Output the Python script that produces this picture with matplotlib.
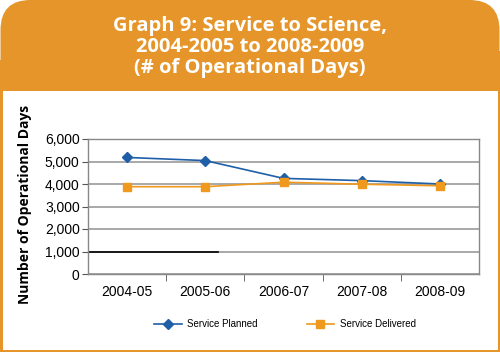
import matplotlib.pyplot as plt
from matplotlib.patches import FancyBboxPatch, Rectangle
from matplotlib.lines import Line2D

years = ['2004-05', '2005-06', '2006-07', '2007-08', '2008-09']
planned = [5180, 5040, 4250, 4150, 4000]
delivered = [3880, 3880, 4080, 3990, 3920]
yticks = [0, 1000, 2000, 3000, 4000, 5000, 6000]

orange = '#E5952A'
blue = '#1F5FA8'
line_orange = '#EF9A1E'

W, H = 500, 352
fig = plt.figure(figsize=(5.0, 3.52), dpi=100)
fig.patch.set_facecolor('white')

# background in pixel units: header box and orange frame
bg = fig.add_axes([0, 0, 1, 1], zorder=-1)
bg.set_xlim(0, W)
bg.set_ylim(0, H)
bg.axis('off')
bg.add_patch(FancyBboxPatch((0.5, H - 91), 499, 91,
                            boxstyle='round,pad=0,rounding_size=30',
                            facecolor=orange, edgecolor='none'))
bg.add_patch(Rectangle((0.5, H - 91), 499, 40, facecolor=orange, edgecolor='none'))
bg.add_patch(Rectangle((0.3, 0), 2.2, H - 60, facecolor=orange, edgecolor='none'))
bg.add_patch(Rectangle((497.5, 0), 2.2, H - 60, facecolor=orange, edgecolor='none'))
bg.add_patch(Rectangle((0, 0), W, 1.8, facecolor=orange, edgecolor='none'))

fig.text(0.5, 1 - 47 / H,
         'Graph 9: Service to Science,\n2004-2005 to 2008-2009\n(# of Operational Days)',
         ha='center', va='center', color='white', fontsize=14.5, fontweight='bold',
         family='Open Sans', linespacing=1.08)

ax = fig.add_axes([88 / W, (H - 274) / H, 391 / W, 135 / H])
x = range(len(years))
ax.plot(x, planned, color=blue, marker='D', markersize=5, lw=1.2,
        label='Service Planned', zorder=3)
ax.plot(x, delivered, color=line_orange, marker='s', markersize=6, lw=1.2,
        label='Service Delivered', zorder=3)

ax.set_xlim(-0.5, len(years) - 0.5)
ax.set_ylim(0, 6000)
ax.set_yticks(yticks)
ax.set_yticklabels([f'{v:,}' for v in yticks], family='Liberation Sans', fontsize=10)
ax.set_xticks(list(x))
ax.set_xticklabels(years, family='Liberation Sans', fontsize=10)
ax.tick_params(axis='x', length=0, pad=8)
ax.set_xticks([i + 0.5 for i in range(len(years) - 1)], minor=True)
ax.tick_params(axis='x', which='minor', length=5, direction='out', color='#555555')
ax.tick_params(axis='y', length=4, color='#555555', pad=2)
ax.yaxis.grid(True, color='#999999', lw=1.2)
ax.set_axisbelow(True)
for s in ax.spines.values():
    s.set_color('#888888')
    s.set_linewidth(1)
# dark segment on the 1,000 gridline
ax.plot([-0.5, 1.16], [1000, 1000], color='black', lw=1.2, zorder=2)

fig.text(25 / W, 1 - 204 / H, 'Number of Operational Days', rotation=90,
         ha='center', va='center', fontsize=10, fontweight='bold', family='Open Sans')

h1 = Line2D([], [], color=blue, marker='D', markersize=5, lw=1.2)
h2 = Line2D([], [], color=line_orange, marker='s', markersize=6, lw=1.2)
fig.legend([h1, h2], ['Service Planned', 'Service Delivered'], loc='center',
           bbox_to_anchor=(0.57, 1 - 324 / H), ncol=2, frameon=False,
           prop={'family': 'Liberation Sans', 'size': 7}, columnspacing=5,
           handlelength=2.8, handletextpad=0.6)

fig.savefig('out.png', dpi=100)
